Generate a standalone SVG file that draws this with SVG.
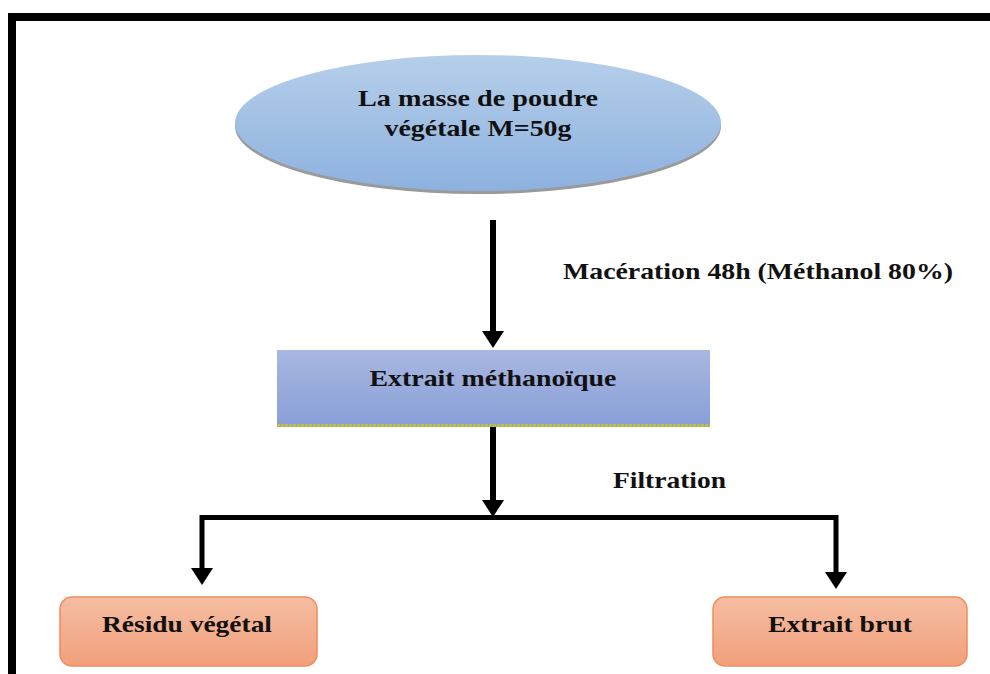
<svg xmlns="http://www.w3.org/2000/svg" width="990" height="674" viewBox="0 0 990 674">
<defs>
<style>
.t{font-family:"Liberation Serif","Times New Roman",serif;font-weight:bold;font-size:23px;fill:#111;text-anchor:middle}
.ln{stroke:#000;fill:none}
</style>
<linearGradient id="gEll" x1="0" y1="0" x2="0" y2="1">
<stop offset="0" stop-color="#b6cfea"/>
<stop offset="1" stop-color="#8db1df"/>
</linearGradient>
<linearGradient id="gBox" x1="0" y1="0" x2="0" y2="1">
<stop offset="0" stop-color="#a9b7e1"/>
<stop offset="1" stop-color="#889fd7"/>
</linearGradient>
<linearGradient id="gOr" x1="0" y1="0" x2="0" y2="1">
<stop offset="0" stop-color="#f5bda2"/>
<stop offset="1" stop-color="#f2a07c"/>
</linearGradient>
</defs>
<rect width="990" height="674" fill="#fff"/>
<rect x="12" y="17" width="1000" height="700" fill="none" stroke="#000" stroke-width="8"/>

<g id="connectors">
<line class="ln" x1="493" y1="220" x2="493" y2="332" stroke-width="6"/>
<path d="M482,331 L504,331 L493,348 Z" fill="#000"/>
<line class="ln" x1="493" y1="427" x2="493" y2="502" stroke-width="6"/>
<path d="M482,500 L504,500 L493,517 Z" fill="#000"/>
<polyline class="ln" points="202,570 202,517.5 836,517.5 836,572" stroke-width="5"/>
<path d="M191,568 L213,568 L202,585 Z" fill="#000"/>
<path d="M825,572 L847,572 L836,589 Z" fill="#000"/>
</g>

<g id="n1">
<ellipse cx="478" cy="126" rx="243" ry="68" fill="#9a9a9a"/>
<ellipse cx="478" cy="123" rx="243" ry="68" fill="url(#gEll)"/>
<text class="t" x="478" y="106" textLength="240" lengthAdjust="spacingAndGlyphs">La masse de poudre</text>
<text class="t" x="478" y="136" textLength="187" lengthAdjust="spacingAndGlyphs">végétale M=50g</text>
</g>

<g id="n2">
<rect x="277" y="350" width="433" height="77" fill="url(#gBox)"/>
<line x1="277" y1="425.5" x2="710" y2="425.5" stroke="#c4bd3a" stroke-width="3" stroke-dasharray="3 1"/>
<text class="t" x="493" y="386" textLength="247" lengthAdjust="spacingAndGlyphs">Extrait méthanoïque</text>
</g>

<g id="n3">
<rect x="60" y="597" width="257" height="69" rx="12" fill="url(#gOr)" stroke="#ef8c5c" stroke-width="1.5"/>
<text class="t" x="187" y="632" textLength="170" lengthAdjust="spacingAndGlyphs">Résidu végétal</text>
</g>

<g id="n4">
<rect x="713" y="597" width="254" height="69" rx="12" fill="url(#gOr)" stroke="#ef8c5c" stroke-width="1.5"/>
<text class="t" x="840" y="632" textLength="144" lengthAdjust="spacingAndGlyphs">Extrait brut</text>
</g>

<g id="labels">
<text class="t" x="758" y="279" textLength="390" lengthAdjust="spacingAndGlyphs">Macération 48h (Méthanol 80%)</text>
<text class="t" x="669.5" y="488" textLength="113" lengthAdjust="spacingAndGlyphs">Filtration</text>
</g>
</svg>
